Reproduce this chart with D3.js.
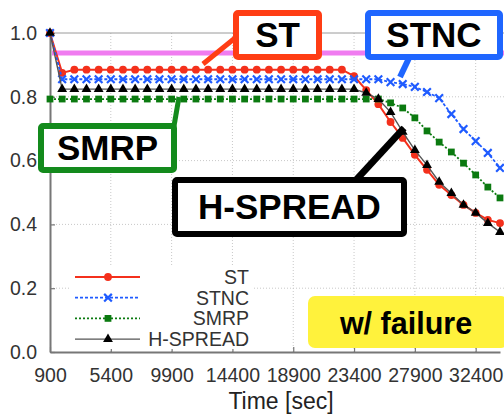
<!DOCTYPE html>
<html>
<head>
<meta charset="utf-8">
<script src="https://cdn.jsdelivr.net/npm/d3@7"></script>
<style>
  body { margin: 0; background: #fff; }
  svg { display: block; font-family: "Liberation Sans", Arial, sans-serif; }
</style>
</head>
<body>
<svg id="chart" width="504" height="416"></svg>
<script>
const times = [
  900, 1800, 2700, 3600, 4500, 5400, 6300, 7200, 8100, 9000,
  9900, 10800, 11700, 12600, 13500, 14400, 15300, 16200, 17100, 18000,
  18900, 19800, 20700, 21600, 22500, 23400, 24300, 25200, 26100, 27000,
  27900, 28800, 29700, 30600, 31500, 32400, 33300, 34200,
];

const stValues = [
  1.0, 0.875, 0.885, 0.885, 0.885, 0.885, 0.885, 0.885, 0.885, 0.885,
  0.885, 0.885, 0.885, 0.885, 0.885, 0.885, 0.885, 0.885, 0.885, 0.885,
  0.885, 0.885, 0.885, 0.885, 0.885, 0.865, 0.821, 0.777, 0.721, 0.671,
  0.618, 0.571, 0.524, 0.492, 0.461, 0.436, 0.414, 0.404,
];

const stncValues = [
  1.0, 0.855, 0.855, 0.855, 0.855, 0.855, 0.855, 0.855, 0.855, 0.855,
  0.855, 0.855, 0.855, 0.855, 0.855, 0.855, 0.855, 0.855, 0.855, 0.855,
  0.855, 0.855, 0.855, 0.855, 0.855, 0.855, 0.855, 0.855, 0.846, 0.84,
  0.831, 0.815, 0.796, 0.746, 0.699, 0.661, 0.624, 0.577,
];

const smrpValues = [
  0.793, 0.793, 0.793, 0.793, 0.793, 0.793, 0.793, 0.793, 0.793, 0.793,
  0.793, 0.793, 0.793, 0.793, 0.793, 0.793, 0.793, 0.793, 0.793, 0.793,
  0.793, 0.793, 0.793, 0.793, 0.793, 0.793, 0.793, 0.793, 0.781, 0.765,
  0.734, 0.693, 0.658, 0.627, 0.592, 0.555, 0.517, 0.483,
];

const hspreadValues = [
  1.0, 0.824, 0.824, 0.824, 0.824, 0.824, 0.824, 0.824, 0.824, 0.824,
  0.824, 0.824, 0.824, 0.824, 0.824, 0.824, 0.824, 0.824, 0.824, 0.824,
  0.824, 0.824, 0.824, 0.824, 0.824, 0.824, 0.812, 0.793, 0.752, 0.69,
  0.633, 0.586, 0.533, 0.498, 0.461, 0.436, 0.404, 0.376,
];

// upper reference line (pink, no legend entry)
const boundValue = 0.937;

const xTicks = [900, 5400, 9900, 14400, 18900, 23400, 27900, 32400];
const yTicks = [0, 0.2, 0.4, 0.6, 0.8, 1.0];

const series = [
  { name: "ST", values: stValues, color: "#f4301c", dash: null, width: 2, symbol: d3.symbolCircle, size: 48 },
  { name: "STNC", values: stncValues, color: "#1f5bff", dash: "3,2", width: 1.8, symbol: d3.symbolX, size: 40 },
  { name: "SMRP", values: smrpValues, color: "#0b7a10", dash: "2,2", width: 1.8, symbol: d3.symbolSquare, size: 46 },
  { name: "H-SPREAD", values: hspreadValues, color: "#000", line: "#555", dash: null, width: 1.4, symbol: d3.symbolTriangle, size: 42 },
];

const margin = { top: 33, left: 50, bottom: 64 };
const svg = d3.select("#chart");
const height = 416;

const x = d3.scaleLinear().domain([900, 34200]).range([margin.left, 500]);
const y = d3.scaleLinear().domain([0, 1]).range([height - margin.bottom, margin.top]);

// grid
const grid = svg.append("g").attr("class", "grid");
grid.selectAll("line.v")
  .data(xTicks.slice(1))
  .join("line")
  .attr("x1", (d) => x(d)).attr("x2", (d) => x(d))
  .attr("y1", y(0)).attr("y2", y(1))
  .attr("stroke", "#c8c8c8").attr("stroke-dasharray", "1,2");
grid.selectAll("line.h")
  .data(yTicks.slice(1, -1))
  .join("line")
  .attr("x1", x(900)).attr("x2", 504)
  .attr("y1", (d) => y(d)).attr("y2", (d) => y(d))
  .attr("stroke", "#c8c8c8").attr("stroke-dasharray", "1,2");

// top frame
svg.append("line")
  .attr("x1", x(900)).attr("x2", 504)
  .attr("y1", y(1)).attr("y2", y(1))
  .attr("stroke", "#9a9a9a").attr("stroke-width", 1);

// axes
const xAxis = svg.append("g")
  .attr("transform", `translate(0,${y(0)})`)
  .call(d3.axisBottom(x).tickValues(xTicks).tickFormat(d3.format("d")).tickSizeInner(-5).tickSizeOuter(0).tickPadding(12));
const yAxis = svg.append("g")
  .attr("transform", `translate(${x(900)},0)`)
  .call(d3.axisLeft(y).tickValues(yTicks).tickFormat(d3.format(".1f")).tickSizeInner(-5).tickSizeOuter(0).tickPadding(12));

[xAxis, yAxis].forEach((a) => {
  a.select(".domain").attr("stroke", "#777").attr("stroke-width", 2);
  a.selectAll(".tick line").attr("stroke", "#777").attr("stroke-width", 1.2);
  a.selectAll(".tick text")
    .attr("fill", "#333")
    .attr("font-size", 19.5)
    .attr("font-family", "Liberation Sans, Arial, sans-serif");
});
xAxis.selectAll(".tick text").attr("dy", "0.9em");
yAxis.selectAll(".tick text").attr("dx", "-1");

svg.append("text")
  .attr("x", 281).attr("y", 409)
  .attr("text-anchor", "middle")
  .attr("font-size", 23)
  .attr("fill", "#222")
  .text("Time [sec]");

// pink reference line
svg.append("line")
  .attr("x1", x(900) + 2).attr("x2", 504)
  .attr("y1", y(boundValue)).attr("y2", y(boundValue))
  .attr("stroke", "#f07cf0").attr("stroke-width", 5);

// series
const line = d3.line().x((d, i) => x(times[i])).y((d) => y(d));
series.forEach((s) => {
  const g = svg.append("g").attr("class", "series");
  g.append("path")
    .attr("d", line(s.values))
    .attr("fill", "none")
    .attr("stroke", s.line || s.color)
    .attr("stroke-width", s.width)
    .attr("stroke-dasharray", s.dash);
  g.selectAll("path.pt")
    .data(s.values)
    .join("path")
    .attr("class", "pt")
    .attr("transform", (d, i) => `translate(${x(times[i])},${y(d)})`)
    .attr("d", d3.symbol(s.symbol, s.size))
    .attr("fill", s.symbol === d3.symbolX ? "none" : s.color)
    .attr("stroke", s.symbol === d3.symbolX ? s.color : "none")
    .attr("stroke-width", 2.2);
});

// legend
const legend = svg.append("g");
legend.append("rect")
  .attr("x", 70).attr("y", 266).attr("width", 184).attr("height", 83)
  .attr("fill", "#fff");
series.forEach((s, i) => {
  const ly = 277 + i * 20.7;
  const row = legend.append("g");
  row.append("line")
    .attr("x1", 75).attr("x2", 140)
    .attr("y1", ly).attr("y2", ly)
    .attr("stroke", s.line || s.color)
    .attr("stroke-width", s.width)
    .attr("stroke-dasharray", s.dash);
  row.append("path")
    .attr("transform", `translate(108,${ly})`)
    .attr("d", d3.symbol(s.symbol, s.size))
    .attr("fill", s.symbol === d3.symbolX ? "none" : s.color)
    .attr("stroke", s.symbol === d3.symbolX ? s.color : "none")
    .attr("stroke-width", 2.2);
  row.append("text")
    .attr("x", 249).attr("y", ly + 7)
    .attr("text-anchor", "end")
    .attr("font-size", 19.5)
    .attr("fill", "#333")
    .text(s.name);
});

// callout boxes
function callout(box) {
  const g = svg.append("g");
  g.append("line")
    .attr("x1", box.pointer[0]).attr("y1", box.pointer[1])
    .attr("x2", box.pointer[2]).attr("y2", box.pointer[3])
    .attr("stroke", box.color).attr("stroke-width", box.pw || 5);
  g.append("rect")
    .attr("x", box.x + 3).attr("y", box.y + 3)
    .attr("width", box.w - 6).attr("height", box.h - 6)
    .attr("rx", 2)
    .attr("fill", "#fff")
    .attr("stroke", box.color).attr("stroke-width", 6);
  g.append("text")
    .attr("x", box.x + box.w / 2).attr("y", box.y + box.h / 2 + 12)
    .attr("text-anchor", "middle")
    .attr("font-size", 35)
    .attr("font-weight", "bold")
    .attr("fill", "#000")
    .text(box.label);
}

callout({ label: "ST", color: "#ff3d14", x: 233, y: 10, w: 89, h: 50, pointer: [240, 34, 203, 64] });
callout({ label: "STNC", color: "#1f66ff", x: 365, y: 10, w: 138, h: 50, pointer: [410, 56, 400, 77], pw: 6 });
callout({ label: "SMRP", color: "#138a1c", x: 38, y: 123, w: 139, h: 50, pointer: [174, 126, 179, 97] });
callout({ label: "H-SPREAD", color: "#000", x: 172, y: 177, w: 235, h: 60, pointer: [356, 180, 404, 128], pw: 7 });

// failure tag
svg.append("rect")
  .attr("x", 308).attr("y", 296).attr("width", 200).attr("height", 52)
  .attr("rx", 7)
  .attr("fill", "#fff23c");
svg.append("text")
  .attr("x", 406).attr("y", 334)
  .attr("text-anchor", "middle")
  .attr("font-size", 30.5)
  .attr("font-weight", "bold")
  .attr("fill", "#000")
  .text("w/ failure");
</script>
</body>
</html>
